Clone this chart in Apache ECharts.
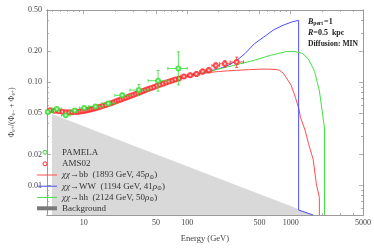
<!DOCTYPE html>
<html><head><meta charset="utf-8">
<script src="https://cdn.jsdelivr.net/npm/echarts@6/dist/echarts.min.js"></script>
<style>html,body{margin:0;padding:0;background:#fff}#c{width:374px;height:248px}</style>
</head><body><div id="c"></div>
<script>
// ---- tick values ----
const xTickLabels = [10, 50, 100, 500, 1000, 5000];
const xMinorTicks = [5, 6, 7, 8, 9, 20, 30, 40, 60, 70, 80, 90, 200, 300, 400, 600, 700, 800, 900, 2000, 3000, 4000];
const yTickLabels = [0.01, 0.02, 0.05, 0.1, 0.2, 0.5];
const yMinorTicks = [0.006, 0.007, 0.008, 0.009, 0.03, 0.04, 0.06, 0.07, 0.08, 0.09, 0.3, 0.4];

// ---- PAMELA ----
const pamelaE   = [4.5, 5.5, 6.7, 8.2, 10.1, 13.0, 17.3, 23.6, 34.1, 52.3, 82.2];
const pamelaV   = [0.0515, 0.0551, 0.0480, 0.0532, 0.0563, 0.0584, 0.0624, 0.0747, 0.0840, 0.1035, 0.136];
const pamelaLo  = [0.0500, 0.0535, 0.0465, 0.0515, 0.0545, 0.0562, 0.0598, 0.0712, 0.0745, 0.0820, 0.0943];
const pamelaHi  = [0.0530, 0.0567, 0.0495, 0.0549, 0.0581, 0.0606, 0.0650, 0.0785, 0.0950, 0.1300, 0.197];
const pamelaElo = [4.1, 5.0, 6.1, 7.4, 9.1, 11.2, 15.0, 20.0, 28.0, 42.0, 65.0];
const pamelaEhi = [5.0, 6.1, 7.4, 9.1, 11.2, 15.0, 20.0, 28.0, 42.0, 65.0, 100.0];

// ---- AMS02 ----
const amsE = [4.73, 5.24, 5.74, 6.24, 6.74, 7.24, 7.74, 8.24, 8.74, 9.24, 9.74, 10.3, 10.8, 11.3, 11.8, 12.4, 13.0, 13.7, 14.5, 15.4,
  16.4, 17.4, 18.4, 19.5, 20.6, 21.8, 23.0, 24.3, 25.6, 27.0, 28.5, 30.1, 31.8, 33.6, 35.5, 37.5, 39.6, 42.1, 44.9, 47.9,
  51.2, 54.7, 58.4, 62.5, 67.0, 71.8, 76.9, 83.2, 93.0, 107, 123, 141, 162, 189, 231, 301];
const amsV = [0.0536, 0.0529, 0.0523, 0.0519, 0.0514, 0.0512, 0.0514, 0.0515, 0.0516, 0.0521, 0.0524, 0.0530, 0.0536, 0.0541, 0.0547, 0.0554, 0.0561, 0.0570, 0.0580, 0.0591,
  0.0603, 0.0615, 0.0628, 0.0641, 0.0655, 0.0668, 0.0682, 0.0696, 0.0710, 0.0724, 0.0739, 0.0755, 0.0771, 0.0788, 0.0805, 0.0822, 0.0840, 0.0860, 0.0880, 0.0900,
  0.0925, 0.0948, 0.0970, 0.0992, 0.1015, 0.1040, 0.1062, 0.1090, 0.1140, 0.1170, 0.1200, 0.1270, 0.1310, 0.1450, 0.1510, 0.1570];
const amsErr = [0.0008, 0.0008, 0.0008, 0.0008, 0.0008, 0.0008, 0.0008, 0.0008, 0.0009, 0.0009, 0.0009, 0.0009, 0.0010, 0.0010, 0.0010, 0.0010, 0.0011, 0.0011, 0.0011, 0.0012,
  0.0012, 0.0013, 0.0013, 0.0014, 0.0014, 0.0015, 0.0015, 0.0016, 0.0016, 0.0017, 0.0017, 0.0018, 0.0019, 0.0020, 0.0021, 0.0022, 0.0023, 0.0024, 0.0025, 0.0027,
  0.0028, 0.0030, 0.0032, 0.0034, 0.0036, 0.0038, 0.0040, 0.0045, 0.0050, 0.0055, 0.0060, 0.0070, 0.0080, 0.0090, 0.0110, 0.0180];
const amsElo = [4.5, 5.0, 5.5, 6.0, 6.5, 7.0, 7.5, 8.0, 8.5, 9.0, 9.5, 10.0, 10.5, 11.0, 11.5, 12.1, 12.7, 13.3, 14.1, 14.9,
  15.9, 16.9, 17.9, 18.9, 20.0, 21.2, 22.4, 23.6, 24.9, 26.3, 27.8, 29.3, 30.9, 32.6, 34.4, 36.4, 38.5, 40.9, 43.4, 46.4,
  49.6, 53.0, 56.8, 60.5, 64.5, 69.0, 74.0, 80.0, 86.5, 100, 115.1, 132.1, 151.5, 173.5, 206, 260];
const amsEhi = [5.0, 5.5, 6.0, 6.5, 7.0, 7.5, 8.0, 8.5, 9.0, 9.5, 10.0, 10.5, 11.0, 11.5, 12.1, 12.7, 13.3, 14.1, 14.9, 15.9,
  16.9, 17.9, 18.9, 20.0, 21.2, 22.4, 23.6, 24.9, 26.3, 27.8, 29.3, 30.9, 32.6, 34.4, 36.4, 38.5, 40.9, 43.4, 46.4, 49.6,
  53.0, 56.8, 60.5, 64.5, 69.0, 74.0, 80.0, 86.5, 100, 115.1, 132.1, 151.5, 173.5, 206, 260, 350];

// ---- model curves ----
const bbE = [4.4, 5, 6, 7, 8, 10, 12, 15, 20, 25, 30, 40, 50, 60, 80, 100, 130, 160, 200, 250, 300, 400, 517, 600, 726, 785, 843, 905, 1010, 1113, 1200, 1243, 1378, 1484, 1649, 1770, 1893, 1893];
const bbV = [0.0535, 0.0530, 0.0521, 0.0515, 0.0514, 0.0523, 0.0545, 0.0585, 0.0650, 0.0705, 0.0755, 0.0840, 0.0915, 0.0975, 0.1070, 0.1140, 0.1200, 0.1240, 0.1270, 0.1290, 0.1305, 0.1325, 0.1340, 0.1340, 0.1330, 0.1300, 0.1230, 0.1110, 0.0937, 0.0711, 0.0551, 0.0459, 0.0344, 0.0257, 0.0180, 0.0104, 0.0077, 0.0052];

const wwE = [4.4, 5, 6, 7, 8, 10, 12, 15, 20, 25, 30, 40, 50, 60, 80, 100, 130, 160, 200, 236, 293, 361, 444, 550, 680, 843, 1042, 1194, 1194, 1650];
const wwV = [0.0535, 0.0530, 0.0521, 0.0515, 0.0514, 0.0523, 0.0545, 0.0585, 0.0650, 0.0705, 0.0755, 0.0840, 0.0915, 0.0975, 0.1070, 0.1145, 0.1215, 0.1270, 0.1350, 0.1420, 0.1590, 0.1890, 0.2350, 0.2740, 0.3200, 0.3560, 0.3850, 0.3970, 0.0058, 0.0052];

const hhE = [4.4, 5, 6, 7, 8, 10, 12, 15, 20, 25, 30, 40, 50, 60, 80, 100, 130, 160, 200, 300, 444, 636, 905, 1100, 1300, 1484, 1705, 1896, 2015, 2090, 2124, 2124];
const hhV = [0.0535, 0.0530, 0.0521, 0.0515, 0.0514, 0.0523, 0.0545, 0.0585, 0.0650, 0.0705, 0.0755, 0.0840, 0.0915, 0.0975, 0.1070, 0.1145, 0.1210, 0.1265, 0.1340, 0.1480, 0.1630, 0.1820, 0.1980, 0.1980, 0.1900, 0.1680, 0.1270, 0.0822, 0.0532, 0.0400, 0.0360, 0.0052];

const bgE = [4.93, 10, 30, 100, 300, 1000, 1650];
const bgV = [0.0494, 0.0375, 0.0245, 0.0154, 0.0101, 0.00634, 0.0052];

// ---- colours / fonts ----
const SERIF = '"Liberation Serif", "DejaVu Serif", serif';
const C_RED = '#ff4d4d', C_BLUE = '#4d4dff', C_GREEN = '#44e044';
const C_AMS = '#ff2a2a', C_PAM = '#33dd33';
const TXT = '#333';
const CLEAR = 'rgba(0,0,0,0)';

const zip = (a, b) => a.map((v, i) => [v, b[i]]);
const errData = (E, V, lo, hi, elo, ehi) => E.map((e, i) => [e, V[i], lo[i], hi[i], elo[i], ehi[i]]);

function errRender(params, api) {
  const e = api.value(0), v = api.value(1);
  const p = api.coord([e, v]);
  const pl = api.coord([e, api.value(2)]);
  const ph = api.coord([e, api.value(3)]);
  const xl = api.coord([api.value(4), v]);
  const xh = api.coord([api.value(5), v]);
  const st = { stroke: api.visual('color'), lineWidth: 0.8 };
  const cap = 1.5;
  return {
    type: 'group',
    children: [
      { type: 'line', shape: { x1: p[0], y1: pl[1], x2: p[0], y2: ph[1] }, style: st },
      { type: 'line', shape: { x1: p[0] - cap, y1: pl[1], x2: p[0] + cap, y2: pl[1] }, style: st },
      { type: 'line', shape: { x1: p[0] - cap, y1: ph[1], x2: p[0] + cap, y2: ph[1] }, style: st },
      { type: 'line', shape: { x1: xl[0], y1: p[1], x2: xh[0], y2: p[1] }, style: st },
      { type: 'line', shape: { x1: xl[0], y1: p[1] - cap, x2: xl[0], y2: p[1] + cap }, style: st },
      { type: 'line', shape: { x1: xh[0], y1: p[1] - cap, x2: xh[0], y2: p[1] + cap }, style: st }
    ]
  };
}

const XMIN = 4.41, XMAX = 5000, YMIN = 0.0052, YMAX = 0.5;
const axisLineStyle = { color: '#9a9a9a', width: 1 };
const tickStyle = { color: '#9a9a9a', width: 0.8 };
function xAx(pos, values, len, labels, extra) {
  return Object.assign({
    type: 'log', logBase: 10, min: XMIN, max: XMAX, position: pos, gridIndex: 0,
    axisLine: { show: true, onZero: false, lineStyle: axisLineStyle },
    axisTick: { show: true, inside: true, length: len, customValues: values, lineStyle: tickStyle },
    axisLabel: labels ? { show: true, customValues: xTickLabels, formatter: v => String(Math.round(v)),
      fontFamily: SERIF, fontSize: 8, color: '#444', margin: 4 } : { show: false },
    splitLine: { show: false }, minorTick: { show: false }
  }, extra || {});
}
function yAx(pos, values, len, labels, extra) {
  return Object.assign({
    type: 'log', logBase: 10, min: YMIN, max: YMAX, position: pos, gridIndex: 0,
    axisLine: { show: true, onZero: false, lineStyle: axisLineStyle },
    axisTick: { show: true, inside: true, length: len, customValues: values, lineStyle: tickStyle },
    axisLabel: labels ? { show: true, customValues: yTickLabels, formatter: v => v.toFixed(2),
      fontFamily: SERIF, fontSize: 8, color: '#444', margin: 5 } : { show: false },
    splitLine: { show: false }, minorTick: { show: false }
  }, extra || {});
}

const legendText = {
  fontFamily: SERIF, fontSize: 9, color: TXT, lineHeight: 11,
  rich: {
    i: { fontFamily: SERIF, fontStyle: 'italic', fontSize: 9, color: TXT, lineHeight: 11 },
    s: { fontFamily: SERIF, fontSize: 6, color: TXT, lineHeight: 11, padding: [4, 0, 0, 0] }
  }
};
const legendBase = { show: true, orient: 'vertical', padding: 0, selectedMode: false, textStyle: legendText };

const chart = echarts.init(document.getElementById('c'), null, { renderer: 'canvas' });
chart.setOption({
  animation: false,
  backgroundColor: '#fff',
  grid: { left: 32, right: 10, top: 10, bottom: 28, containLabel: false },
  xAxis: [
    xAx('bottom', xTickLabels, 4, true, { name: 'Energy (GeV)', nameLocation: 'middle', nameGap: 19,
      nameTextStyle: { fontFamily: SERIF, fontSize: 8.5, color: '#444' } }),
    xAx('bottom', xMinorTicks, 2, false),
    xAx('top', xTickLabels, 4, false),
    xAx('top', xMinorTicks, 2, false)
  ],
  yAxis: [
    yAx('left', yTickLabels, 4, true, {
      name: 'Φ{s|e+}/(Φ{s|e−} + Φ{s|e+})', nameLocation: 'middle', nameGap: 23, nameRotate: 90,
      nameTextStyle: { fontFamily: SERIF, fontSize: 8, color: '#444',
        rich: { s: { fontFamily: SERIF, fontSize: 5.5, color: '#444', padding: [4, 0, 0, 0] } } } }),
    yAx('left', yMinorTicks, 2, false),
    yAx('right', yTickLabels, 4, false),
    yAx('right', yMinorTicks, 2, false)
  ],
  legend: [
    Object.assign({}, legendBase, {
      left: 37, top: 169.5, itemGap: 0.2, itemWidth: 20, itemHeight: 1,
      data: [
        { name: 'bb', icon: 'rect', itemStyle: { color: C_RED } },
        { name: 'WW', icon: 'rect', itemStyle: { color: C_BLUE } },
        { name: 'hh', icon: 'rect', itemStyle: { color: C_GREEN } }
      ],
      formatter: function (n) {
        if (n === 'bb') return '{i|χχ}→bb  (1893 GeV, 45{i|ρ}{s|⊙})';
        if (n === 'WW') return '{i|χχ}→WW  (1194 GeV, 41{i|ρ}{s|⊙})';
        return '{i|χχ}→hh  (2124 GeV, 50{i|ρ}{s|⊙})';
      }
    }),
    Object.assign({}, legendBase, {
      left: 37, top: 202.8, itemWidth: 20, itemHeight: 4,
      data: [{ name: 'Background', icon: 'rect', itemStyle: { color: '#7a7a7a', borderWidth: 0 } }]
    })
  ],
  graphic: [
    { type: 'circle', shape: { cx: 45, cy: 152.3, r: 2 }, style: { fill: CLEAR, stroke: C_PAM, lineWidth: 1 }, z: 100 },
    { type: 'circle', shape: { cx: 45, cy: 163.8, r: 2 }, style: { fill: CLEAR, stroke: C_AMS, lineWidth: 1 }, z: 100 },
    { type: 'text', x: 62, y: 152.3, z: 100, style: { text: 'PAMELA', fontFamily: SERIF, fontSize: 9, fill: TXT, verticalAlign: 'middle', align: 'left' } },
    { type: 'text', x: 62, y: 163.8, z: 100, style: { text: 'AMS02', fontFamily: SERIF, fontSize: 9, fill: TXT, verticalAlign: 'middle', align: 'left' } },
    { type: 'text', left: 308, top: 18, style: { text: '{b|B}{sb|pert}{n|=1}', rich: {
        b: { fontFamily: SERIF, fontSize: 8, fontStyle: 'italic', fontWeight: 'bold', fill: '#222' },
        sb: { fontFamily: SERIF, fontSize: 5.5, fontWeight: 'bold', fill: '#222', padding: [4, 1, 0, 0] },
        n: { fontFamily: SERIF, fontSize: 8, fontWeight: 'bold', fill: '#222' } } } },
    { type: 'text', left: 308, top: 29, style: { text: '{b|R}{n|=0.5  kpc}', rich: {
        b: { fontFamily: SERIF, fontSize: 8, fontStyle: 'italic', fontWeight: 'bold', fill: '#222' },
        n: { fontFamily: SERIF, fontSize: 8, fontWeight: 'bold', fill: '#222' } } } },
    { type: 'text', left: 308, top: 40, style: { text: 'Diffusion: MIN', fontFamily: SERIF, fontSize: 7.6, fontWeight: 'bold', fill: '#222' } }
  ],
  series: [
    { name: 'Background', type: 'line', data: zip(bgE, bgV), symbol: 'none',
      lineStyle: { width: 0, color: '#d8d8d8' }, itemStyle: { color: '#7a7a7a' },
      areaStyle: { color: '#d9d9d9', opacity: 1, origin: 'start' }, z: 1, silent: true },
    { name: 'bb', type: 'line', data: zip(bbE, bbV), symbol: 'none', lineStyle: { color: C_RED, width: 1 }, itemStyle: { color: C_RED }, z: 2 },
    { name: 'WW', type: 'line', data: zip(wwE, wwV), symbol: 'none', lineStyle: { color: C_BLUE, width: 1 }, itemStyle: { color: C_BLUE }, z: 2 },
    { name: 'hh', type: 'line', data: zip(hhE, hhV), symbol: 'none', lineStyle: { color: C_GREEN, width: 1 }, itemStyle: { color: C_GREEN }, z: 2 },
    { name: 'AMS02', type: 'custom', renderItem: errRender, clip: true, itemStyle: { color: C_AMS },
      data: errData(amsE, amsV, amsV.map((v, i) => v - amsErr[i]), amsV.map((v, i) => v + amsErr[i]), amsElo, amsEhi), z: 3 },
    { name: 'AMS02', type: 'scatter', data: zip(amsE, amsV), symbol: 'emptyCircle', symbolSize: 4,
      itemStyle: { color: C_AMS, borderColor: C_AMS, borderWidth: 1 }, z: 4 },
    { name: 'PAMELA', type: 'custom', renderItem: errRender, clip: true, itemStyle: { color: C_PAM },
      data: errData(pamelaE, pamelaV, pamelaLo, pamelaHi, pamelaElo, pamelaEhi), z: 5 },
    { name: 'PAMELA', type: 'scatter', data: zip(pamelaE, pamelaV), symbol: 'emptyCircle', symbolSize: 4, clip: true,
      itemStyle: { color: C_PAM, borderColor: C_PAM, borderWidth: 1 }, z: 6 }
  ]
});
</script>
</body></html>
